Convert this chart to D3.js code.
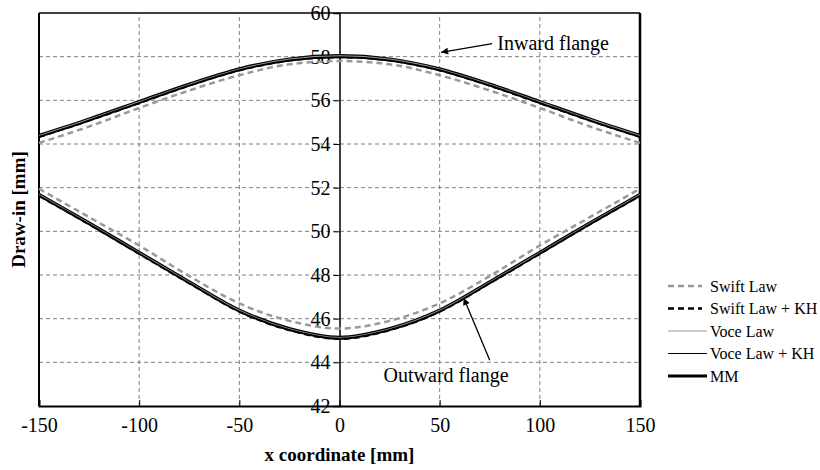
<!DOCTYPE html>
<html>
<head>
<meta charset="utf-8">
<script src="https://cdn.jsdelivr.net/npm/d3@7"></script>
<style>
  body { margin: 0; background: #fff; }
  svg { display: block; font-family: "Liberation Serif", "Times New Roman", serif; }
  svg text { font-family: "Liberation Serif", "Times New Roman", serif; }
</style>
</head>
<body>
<svg id="chart" width="820" height="470"></svg>
<script>
// ---- data ----
const xValues = [-150, -125, -100, -75, -50, -25, 0, 25, 50, 75, 100, 125, 150];
const xTicks = [-150, -100, -50, 0, 50, 100, 150];
const yTicks = [42, 44, 46, 48, 50, 52, 54, 56, 58, 60];

// Inward flange
const inSwift     = [54.05, 54.8, 55.65, 56.45, 57.15, 57.65, 57.8, 57.65, 57.15, 56.45, 55.65, 54.8, 54.05];
const inSwiftKH   = [54.33, 55.08, 55.88, 56.68, 57.38, 57.83, 57.98, 57.83, 57.38, 56.68, 55.88, 55.08, 54.33];
const inVoce      = [54.40, 55.15, 55.95, 56.75, 57.45, 57.90, 58.05, 57.90, 57.45, 56.75, 55.95, 55.15, 54.40];
const inVoceKH    = [54.44, 55.19, 55.99, 56.79, 57.49, 57.94, 58.09, 57.94, 57.49, 56.79, 55.99, 55.19, 54.44];
const inMM        = [54.35, 55.1, 55.9, 56.7, 57.4, 57.85, 58.0, 57.85, 57.4, 56.7, 55.9, 55.1, 54.35];

// Outward flange
const outSwift    = [51.95, 50.65, 49.35, 47.95, 46.7, 45.9, 45.55, 45.9, 46.7, 47.95, 49.35, 50.65, 51.95];
const outSwiftKH  = [51.63, 50.33, 48.98, 47.63, 46.33, 45.48, 45.08, 45.48, 46.33, 47.63, 48.98, 50.33, 51.63];
const outVoce     = [51.70, 50.40, 49.05, 47.70, 46.40, 45.55, 45.15, 45.55, 46.40, 47.70, 49.05, 50.40, 51.70];
const outVoceKH   = [51.74, 50.44, 49.09, 47.74, 46.44, 45.59, 45.19, 45.59, 46.44, 47.74, 49.09, 50.44, 51.74];
const outMM       = [51.65, 50.35, 49.0, 47.65, 46.35, 45.5, 45.1, 45.5, 46.35, 47.65, 49.0, 50.35, 51.65];

const seriesNames = ["Swift Law", "Swift Law + KH", "Voce Law", "Voce Law + KH", "MM"];

// ---- styles ----
const styles = {
  "Swift Law":      { stroke: "#999999", width: 2.5, dash: "6,4" },
  "Swift Law + KH": { stroke: "#000000", width: 2.5, dash: "6,4" },
  "Voce Law":       { stroke: "#999999", width: 1.2, dash: null },
  "Voce Law + KH":  { stroke: "#000000", width: 1.2, dash: null },
  "MM":             { stroke: "#000000", width: 3,   dash: null }
};
const seriesData = {
  "Swift Law": [inSwift, outSwift],
  "Swift Law + KH": [inSwiftKH, outSwiftKH],
  "Voce Law": [inVoce, outVoce],
  "Voce Law + KH": [inVoceKH, outVoceKH],
  "MM": [inMM, outMM]
};
const drawOrder = ["Swift Law", "Swift Law + KH", "MM", "Voce Law", "Voce Law + KH"];

const svg = d3.select("#chart");
const x = d3.scaleLinear().domain([-150, 150]).range([39, 640]);
const y = d3.scaleLinear().domain([42, 60]).range([406, 13]);

// grid
const grid = svg.append("g");
grid.selectAll(".hg").data(yTicks.filter(v => v > 42 && v < 60)).enter().append("line")
  .attr("x1", x(-150)).attr("x2", x(150))
  .attr("y1", d => y(d)).attr("y2", d => y(d))
  .attr("stroke", "#808080").attr("stroke-width", 1).attr("stroke-dasharray", "4,3");
grid.selectAll(".vg").data(xTicks.filter(v => v !== 0 && Math.abs(v) !== 150)).enter().append("line")
  .attr("y1", y(42)).attr("y2", y(60))
  .attr("x1", d => x(d)).attr("x2", d => x(d))
  .attr("stroke", "#808080").attr("stroke-width", 1).attr("stroke-dasharray", "4,3");

// frame
svg.append("line").attr("x1", x(-150)).attr("x2", x(150)).attr("y1", y(60)).attr("y2", y(60)).attr("stroke", "#000").attr("stroke-width", 1.5);
svg.append("line").attr("x1", x(-150)).attr("x2", x(-150)).attr("y1", y(60)).attr("y2", y(42)).attr("stroke", "#000").attr("stroke-width", 2);
svg.append("line").attr("x1", x(150)).attr("x2", x(150)).attr("y1", y(60)).attr("y2", y(42)).attr("stroke", "#000").attr("stroke-width", 2.5);

// x axis at bottom
const xAxis = d3.axisBottom(x).tickValues(xTicks).tickSize(-6).tickPadding(12).tickFormat(d3.format("d"));
const gx = svg.append("g").attr("transform", `translate(0,${y(42)})`).call(xAxis);
gx.attr("font-family", null);
gx.select(".domain").attr("stroke-width", 2);
gx.selectAll("text").attr("font-size", 20).attr("fill", "#000")
  .text(d => d < 0 ? "-" + Math.abs(d) : d);

// y axis at x = 0
const yAxis = d3.axisLeft(y).tickValues(yTicks).tickSize(6).tickPadding(3);
const gy = svg.append("g").attr("transform", `translate(${x(0)},0)`).call(yAxis);
gy.attr("font-family", null);
gy.select(".domain").attr("stroke-width", 1.5);
gy.selectAll("text").attr("font-size", 20).attr("fill", "#000");

// lines
const line = d3.line().x((d, i) => x(xValues[i])).y(d => y(d)).curve(d3.curveMonotoneX);
drawOrder.forEach(name => {
  const st = styles[name];
  seriesData[name].forEach(arr => {
    svg.append("path").datum(arr).attr("d", line)
      .attr("fill", "none").attr("stroke", st.stroke).attr("stroke-width", st.width)
      .attr("stroke-dasharray", st.dash);
  });
});

// arrow marker
svg.append("defs").append("marker").attr("id", "arr")
  .attr("viewBox", "0 0 10 10").attr("refX", 10).attr("refY", 5)
  .attr("markerWidth", 9).attr("markerHeight", 7).attr("markerUnits", "userSpaceOnUse")
  .attr("orient", "auto")
  .append("path").attr("d", "M0,0 L10,5 L0,10 z").attr("fill", "#000");

// annotations
svg.append("line").attr("x1", x(76.2)).attr("y1", y(58.6)).attr("x2", x(50.7)).attr("y2", y(58.2))
  .attr("stroke", "#000").attr("stroke-width", 1.3).attr("marker-end", "url(#arr)");
svg.append("text").attr("x", x(78.8)).attr("y", y(58.3)).attr("font-size", 20).text("Inward flange");

svg.append("line").attr("x1", x(75)).attr("y1", y(44.1)).attr("x2", x(62)).attr("y2", y(46.95))
  .attr("stroke", "#000").attr("stroke-width", 1.3).attr("marker-end", "url(#arr)");
svg.append("text").attr("x", x(22)).attr("y", y(43.1)).attr("font-size", 20).text("Outward flange");

// axis titles
svg.append("text").attr("x", x(0)).attr("y", 461).attr("text-anchor", "middle")
  .attr("font-size", 19).attr("font-weight", "bold").text("x coordinate [mm]");
svg.append("text").attr("transform", `translate(25,${(y(42) + y(60)) / 2}) rotate(-90)`)
  .attr("text-anchor", "middle").attr("font-size", 19).attr("font-weight", "bold").text("Draw-in [mm]");

// legend
const legend = svg.append("g");
seriesNames.forEach((name, i) => {
  const st = styles[name];
  const ly = 286 + i * 22.5;
  legend.append("line").attr("x1", 668).attr("x2", name.startsWith("Swift") ? 702 : 707)
    .attr("y1", ly).attr("y2", ly)
    .attr("stroke", st.stroke).attr("stroke-width", st.width).attr("stroke-dasharray", st.dash);
  legend.append("text").attr("x", 710).attr("y", ly).attr("dy", "0.35em")
    .attr("font-size", 16).text(name);
});
</script>
</body>
</html>
